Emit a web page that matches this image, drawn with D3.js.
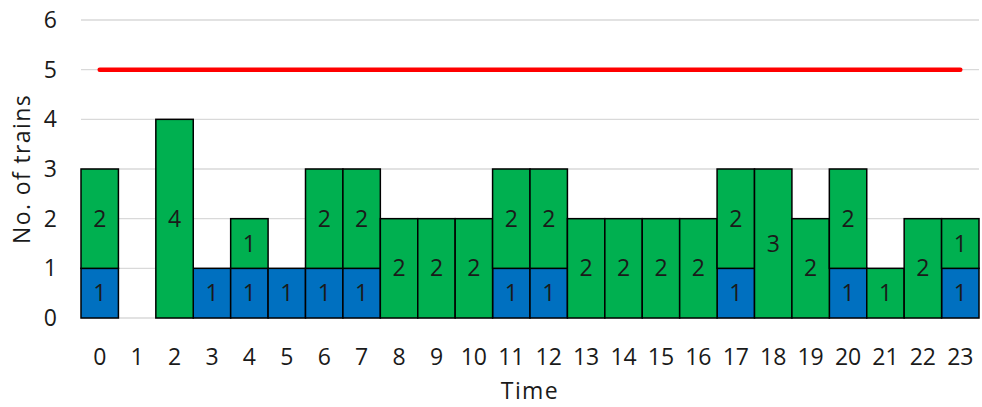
<!DOCTYPE html>
<html>
<head>
<meta charset="utf-8">
<script src="https://cdn.jsdelivr.net/npm/d3@7"></script>
<style>
  body { margin: 0; background: #fff; }
  text { font-family: "Open Sans", "Noto Sans", sans-serif; fill: #1a1a1a; }
</style>
</head>
<body>
<div id="chart"></div>
<script>
// Hours of the day
const hours = [0, 1, 2, 3, 4, 5, 6, 7, 8, 9, 10, 11, 12, 13, 14, 15, 16, 17, 18, 19, 20, 21, 22, 23];
// Blue (bottom) and green (top) segments
const blueTrains  = [1, 0, 0, 1, 1, 1, 1, 1, 0, 0, 0, 1, 1, 0, 0, 0, 0, 1, 0, 0, 1, 0, 0, 1];
const greenTrains = [2, 0, 4, 0, 1, 0, 2, 2, 2, 2, 2, 2, 2, 2, 2, 2, 2, 2, 3, 2, 2, 1, 2, 1];
const limitValue = 5;
const yTicks = [0, 1, 2, 3, 4, 5, 6];

const width = 982, height = 407;
const margin = { top: 20, right: 3, bottom: 89, left: 81 };
const fontSize = 23;

const svg = d3.select("#chart").append("svg")
    .attr("width", width)
    .attr("height", height);

const x = d3.scaleBand()
    .domain(hours)
    .range([margin.left, width - margin.right])
    .padding(0);

const y = d3.scaleLinear()
    .domain([0, 6])
    .range([height - margin.bottom, margin.top]);

// gridlines
svg.append("g")
    .selectAll("line")
    .data(yTicks)
    .enter().append("line")
    .attr("x1", margin.left)
    .attr("x2", width - margin.right)
    .attr("y1", d => y(d))
    .attr("y2", d => y(d))
    .attr("stroke", "#d9d9d9")
    .attr("stroke-width", 1.3);

// y axis labels
const yAxis = d3.axisLeft(y).tickValues(yTicks).tickFormat(d3.format("d")).tickSize(0).tickPadding(0);
const yg = svg.append("g")
    .attr("transform", `translate(${margin.left - 24},0)`)
    .call(yAxis);
yg.select(".domain").remove();
yg.attr("font-size", fontSize).attr("font-family", null);
yg.selectAll("text").attr("fill", "#1a1a1a");

// x axis labels
const xAxis = d3.axisBottom(x).tickSize(0).tickPadding(0);
const xg = svg.append("g")
    .attr("transform", `translate(0,${y(0) + 31})`)
    .call(xAxis);
xg.select(".domain").remove();
xg.attr("font-size", fontSize).attr("font-family", null);
xg.selectAll("text").attr("fill", "#1a1a1a");

// stacked bars
const rows = hours.map((h, i) => ({ hour: h, blue: blueTrains[i], green: greenTrains[i] }));
const stack = d3.stack().keys(["blue", "green"])(rows);
const colors = { blue: "#0070C0", green: "#00B050" };

stack.forEach(layer => {
    const g = svg.append("g");
    const segs = layer.filter(d => d[1] - d[0] > 0);
    g.selectAll("rect")
        .data(segs)
        .enter().append("rect")
        .attr("x", d => x(d.data.hour))
        .attr("width", x.bandwidth())
        .attr("y", d => y(d[1]))
        .attr("height", d => y(d[0]) - y(d[1]))
        .attr("fill", colors[layer.key])
        .attr("stroke", "#000")
        .attr("stroke-width", 1.5);
    g.selectAll("text")
        .data(segs)
        .enter().append("text")
        .attr("x", d => x(d.data.hour) + x.bandwidth() / 2)
        .attr("y", d => (y(d[0]) + y(d[1])) / 2)
        .attr("dy", "0.35em")
        .attr("text-anchor", "middle")
        .attr("font-size", fontSize)
        .text(d => d[1] - d[0]);
});

// limit line
svg.append("line")
    .attr("x1", x(hours[0]) + x.bandwidth() / 2)
    .attr("x2", x(hours[hours.length - 1]) + x.bandwidth() / 2)
    .attr("y1", y(limitValue))
    .attr("y2", y(limitValue))
    .attr("stroke", "#FF0000")
    .attr("stroke-width", 4.5)
    .attr("stroke-linecap", "round");

// axis titles
svg.append("text")
    .attr("transform", `translate(22,${(margin.top + y(0)) / 2}) rotate(-90)`)
    .attr("text-anchor", "middle")
    .attr("dy", "0.35em")
    .attr("font-size", fontSize)
    .attr("letter-spacing", 1.4)
    .text("No. of trains");

svg.append("text")
    .attr("x", (margin.left + width - margin.right) / 2)
    .attr("y", 391)
    .attr("dy", "0.35em")
    .attr("text-anchor", "middle")
    .attr("font-size", fontSize)
    .attr("letter-spacing", 1.4)
    .text("Time");
</script>
</body>
</html>
